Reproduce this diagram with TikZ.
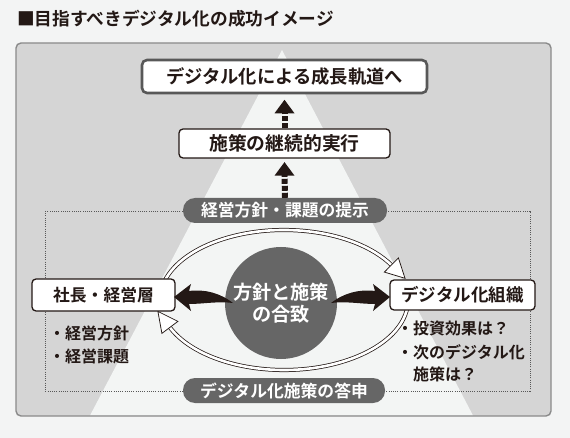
\documentclass[tikz,border=0pt]{standalone}
\usepackage{fontspec}
\setmainfont{Noto Sans CJK JP}[BoldFont={* Bold}]
\usetikzlibrary{calc}
\definecolor{pagebg}{HTML}{F3F4F4}
\definecolor{panelfill}{HTML}{D5D5D5}
\definecolor{panelline}{HTML}{8A8A8A}
\definecolor{trifill}{HTML}{F3F5F4}
\definecolor{pillfill}{HTML}{666666}
\definecolor{darkline}{HTML}{585858}
\definecolor{ink}{HTML}{231815}
\tikzset{
  jp/.style={font=\bfseries\fontsize{#1}{#1}\selectfont},
  whitebox/.style={draw=ink, fill=white, line width=1.3pt, rounded corners=4pt, inner sep=0pt, text=ink},
  goalbox/.style={draw=darkline, fill=white, line width=2.6pt, rounded corners=5pt, inner sep=0pt, text=ink},
  pill/.style={fill=pillfill, rounded corners=12pt, text=white, inner sep=0pt, minimum height=25pt},
  ringline/.style={draw=ink, double=white, double distance=2.6pt, line width=0.75pt},
  ringhead/.style={fill=white, draw=ink, line width=0.75pt, line join=miter},
  stem/.style={draw=ink, line width=6pt, dash pattern=on 5pt off 2pt},
  headfill/.style={fill=ink},
  blackarrow/.style={fill=ink},
  dotframe/.style={draw=darkline, line width=0.9pt, dash pattern=on 1pt off 1.2pt},
  bul/.style={jp=16, text=ink, inner sep=0pt, anchor=west}
}
\begin{document}
\begin{tikzpicture}[x=1pt,y=-1pt]
\useasboundingbox (0,0) rectangle (570,438);
\fill[pagebg] (0,0) rectangle (570,438);
% title
\node[anchor=west, inner sep=0pt, text=ink, jp=17.7] (title) at (17,19) {■目指すべきデジタル化の成功イメージ};
% panel
\fill[panelfill, rounded corners=5pt] (16,43) rectangle (551,416);
\fill[trifill] (282,50) -- (473,415.5) -- (90,415.5) -- cycle;
\draw[panelline, line width=1.4pt, rounded corners=5pt] (16,43) rectangle (551,416);
% dotted frame
\draw[dotframe] (45,211) rectangle (530,391);
% pills
\node[pill, minimum width=204pt, jp=16.8] (top) at (285,210.5) {経営方針・課題の提示};
\node[pill, minimum width=202pt, jp=16.8] (bottom) at (284,390.5) {デジタル化施策の答申};
% ellipse rings
\coordinate (ec) at (284,300);
\draw[ringline] (ec) ++(-170:124 and 70) arc[start angle=-170, end angle=-30, x radius=124, y radius=70];
\draw[ringhead] (405.0,278.3) -- (384.4,272.1) -- (398.4,257.9) -- cycle;
\draw[ringline] (ec) ++(3:124 and 70) arc[start angle=3, end angle=157, x radius=124, y radius=70];
\draw[ringhead] (157.9,311.4) -- (177.9,321.4) -- (161.9,333.4) -- cycle;
% core circle
\node[circle, fill=pillfill, minimum size=112pt, inner sep=0pt, text=white, align=center, font=\bfseries\fontsize{19.2}{22}\selectfont] (core) at (281,303) {方針と施策\\の合致};
% boxes
\node[goalbox, minimum width=285pt, minimum height=33pt, jp=18.3] (goal) at (284.5,76.5) {デジタル化による成長軌道へ};
\node[whitebox, minimum width=211pt, minimum height=29pt, jp=18.8] (exec) at (284.5,143.5) {施策の継続的実行};
\node[whitebox, minimum width=143pt, minimum height=32pt, jp=16.8] (lead) at (103.5,295) {社長・経営層};
\node[whitebox, minimum width=145pt, minimum height=30pt, jp=17.5] (org) at (462.5,295) {デジタル化組織};
% dashed arrows
\draw[stem] (exec.north) -- ($(goal.south)+(0,18)$);
\fill[headfill] ($(goal.south)+(-10,19)$) -- ($(goal.south)+(10,19)$) -- ($(goal.south)+(0,5.5)$) -- cycle;
\draw[stem] (top.north) -- ($(exec.south)+(0,16)$);
\fill[headfill] ($(exec.south)+(-10,17)$) -- ($(exec.south)+(10,17)$) -- ($(exec.south)+(0,3.5)$) -- cycle;
% black curved arrows
\fill[blackarrow] (174,297) -- (191,284) -- (189,291) .. controls (205,289) and (220,293) .. (233,303) .. controls (218,301) and (203,304) .. (189,304) -- (191,311) -- cycle;
\fill[blackarrow] (390,297) -- (373,284) -- (375,291) .. controls (359,289) and (344,293) .. (331,303) .. controls (346,301) and (361,304) .. (375,304) -- (373,311) -- cycle;
% bullets
\node[bul] (l1) at (49,333) {・経営方針};
\node[bul] (l2) at (49,356) {・経営課題};
\node[bul] (r1) at (397,328) {・投資効果は？};
\node[bul] (r2) at (397,352) {・次のデジタル化};
\node[bul] (r3) at (413,374) {施策は？};
\end{tikzpicture}
\end{document}
